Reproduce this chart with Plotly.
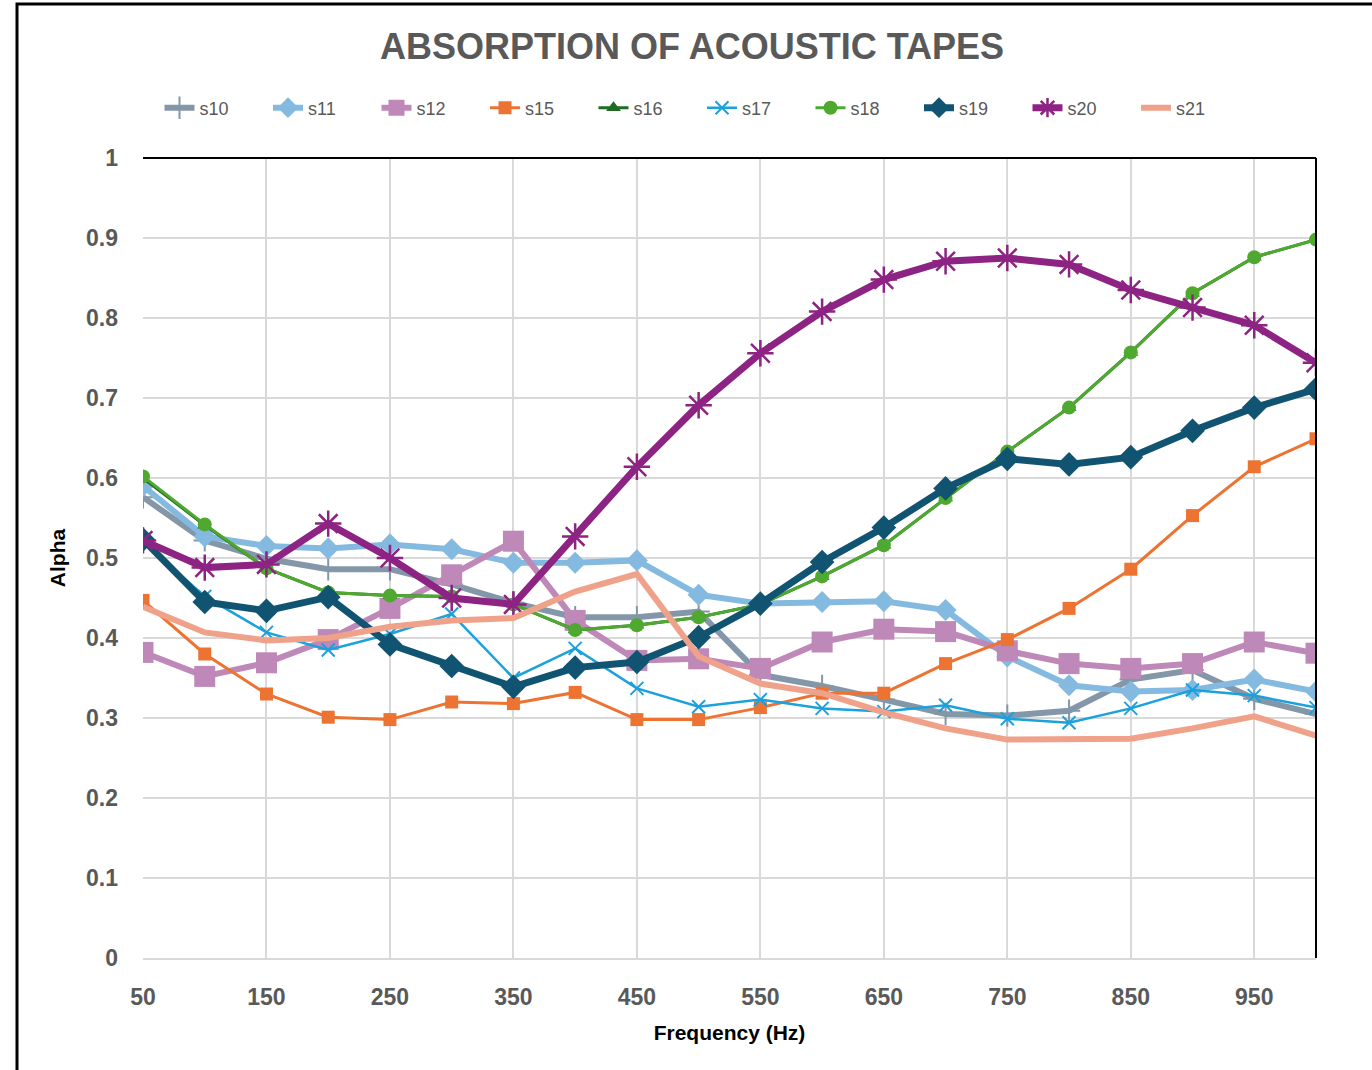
import plotly.graph_objects as go

freq = [50, 100, 150, 200, 250, 300, 350, 400, 450, 500,
        550, 600, 650, 700, 750, 800, 850, 900, 950, 1000]

s10 = [0.576, 0.522, 0.499, 0.486, 0.486, 0.467, 0.444, 0.426, 0.426, 0.433,
       0.354, 0.340, 0.323, 0.305, 0.303, 0.309, 0.348, 0.360, 0.324, 0.305]
s11 = [0.590, 0.527, 0.515, 0.512, 0.517, 0.511, 0.494, 0.494, 0.497, 0.454,
       0.443, 0.445, 0.446, 0.435, 0.377, 0.341, 0.333, 0.335, 0.348, 0.333]
s12 = [0.382, 0.352, 0.369, 0.398, 0.437, 0.479, 0.521, 0.422, 0.372, 0.374,
       0.362, 0.395, 0.411, 0.408, 0.384, 0.368, 0.362, 0.368, 0.395, 0.381]
s15 = [0.447, 0.380, 0.330, 0.301, 0.298, 0.320, 0.318, 0.332, 0.298, 0.298,
       0.313, 0.331, 0.331, 0.368, 0.398, 0.437, 0.486, 0.553, 0.614, 0.649]
s16 = [0.600, 0.541, 0.487, 0.457, 0.453, 0.452, 0.442, 0.410, 0.416, 0.426,
       0.442, 0.477, 0.516, 0.575, 0.633, 0.688, 0.757, 0.831, 0.876, 0.898]
s17 = [0.520, 0.452, 0.407, 0.385, 0.405, 0.430, 0.350, 0.387, 0.337, 0.314,
       0.323, 0.312, 0.308, 0.316, 0.299, 0.294, 0.312, 0.335, 0.328, 0.313]
s18 = [0.602, 0.542, 0.487, 0.457, 0.453, 0.452, 0.442, 0.410, 0.416, 0.426,
       0.442, 0.477, 0.516, 0.575, 0.633, 0.688, 0.757, 0.831, 0.876, 0.898]
s19 = [0.523, 0.445, 0.434, 0.451, 0.392, 0.365, 0.339, 0.363, 0.370, 0.401,
       0.443, 0.495, 0.538, 0.587, 0.624, 0.617, 0.626, 0.659, 0.688, 0.711]
s20 = [0.522, 0.488, 0.492, 0.543, 0.500, 0.450, 0.442, 0.527, 0.614, 0.691,
       0.756, 0.808, 0.848, 0.871, 0.875, 0.867, 0.835, 0.813, 0.791, 0.744]
s21 = [0.439, 0.407, 0.397, 0.400, 0.414, 0.422, 0.425, 0.458, 0.480, 0.377,
       0.343, 0.331, 0.307, 0.287, 0.273, 0.273, 0.274, 0.287, 0.302, 0.278]

series = [
    ("s10", s10, "#8497A9", 6, "cross-thin", 16, 2),
    ("s11", s11, "#85BAE0", 6, "diamond", 17, 0),
    ("s12", s12, "#BE88B8", 6, "square", 21, 0),
    ("s15", s15, "#EC7332", 3, "square", 13, 0),
    ("s16", s16, "#1F6B25", 3, "triangle-up", 13, 0),
    ("s17", s17, "#1BA1DB", 2.5, "x-thin", 13, 2),
    ("s18", s18, "#4FA82F", 3, "circle", 14, 0),
    ("s19", s19, "#115472", 7, "diamond", 19, 0),
    ("s20", s20, "#8D2383", 7, "asterisk", 22, 2.5),
    ("s21", s21, "#F0A189", 6, None, 0, 0),
]

fig = go.Figure()
for name, vals, color, lw, sym, msize, mlw in series:
    if sym is None:
        mode = "lines"
        marker = None
    else:
        mode = "lines+markers"
        marker = dict(symbol=sym, size=msize, color=color,
                      line=dict(color=color, width=mlw))
    fig.add_trace(go.Scatter(x=freq, y=vals, name=name, mode=mode,
                             line=dict(color=color, width=lw),
                             marker=marker))

font_family = "Liberation Sans"

fig.update_layout(
    width=1372, height=1070,
    paper_bgcolor="white", plot_bgcolor="white",
    margin=dict(l=143, r=56, t=158, b=112),
    title=dict(text="<b>ABSORPTION OF ACOUSTIC TAPES</b>",
               x=692 / 1372, xanchor="center", y=1 - 46 / 1070, yanchor="middle",
               font=dict(family=font_family, size=36, color="#595959")),
    legend=dict(orientation="h", x=(702 - 143) / 1173, xanchor="center",
                y=(958 - 108) / 800, yanchor="middle",
                font=dict(family=font_family, size=18, color="#595959"),
                bgcolor="rgba(0,0,0,0)", itemwidth=30, tracegroupgap=0,
                entrywidth=63.5, entrywidthmode="pixels"),
    xaxis=dict(range=[50, 1000], tick0=50, dtick=100, showgrid=True,
               gridcolor="#D9D9D9", gridwidth=1.5, zeroline=False,
               showline=True, linecolor="#D9D9D9", linewidth=1.5,
               ticks="", ticklabelstandoff=18,
               tickfont=dict(family=font_family, size=23, color="#595959", weight="bold"),
               title=dict(text="<b>Frequency (Hz)</b>", standoff=16,
                          font=dict(family=font_family, size=21, color="black"))),
    yaxis=dict(range=[0, 1], dtick=0.1, showgrid=True,
               gridcolor="#D9D9D9", gridwidth=1.5, zeroline=False,
               showline=False, ticks="", ticklabelstandoff=24,
               tickfont=dict(family=font_family, size=23, color="#595959", weight="bold"),
               title=dict(text="<b>Alpha</b>", standoff=14,
                          font=dict(family=font_family, size=21, color="black"))),
    shapes=[
        dict(type="line", xref="paper", yref="paper", x0=0, x1=1, y0=1, y1=1,
             line=dict(color="black", width=2), layer="above"),
        dict(type="line", xref="paper", yref="paper", x0=1, x1=1, y0=0, y1=1,
             line=dict(color="black", width=2), layer="above"),
        dict(type="rect", xref="paper", yref="paper",
             x0=(17 - 143) / 1173, x1=(1385 - 143) / 1173,
             y0=(958 - 1085) / 800, y1=(958 - 4) / 800,
             line=dict(color="black", width=3), fillcolor="rgba(0,0,0,0)"),
    ],
)

fig.write_html("out.html", config={"displayModeBar": False},
               post_script="document.body.style.margin='0px';document.body.style.overflow='hidden';")
